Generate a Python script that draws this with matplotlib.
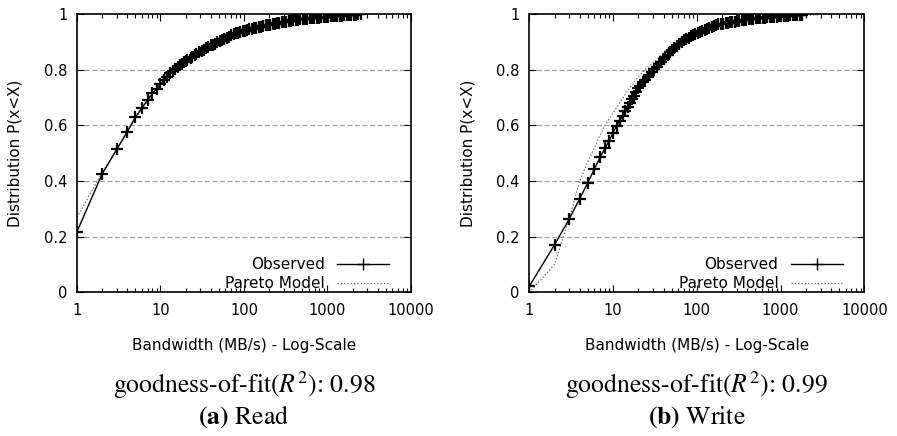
import matplotlib
matplotlib.use('Agg')
import matplotlib.pyplot as plt
from matplotlib.ticker import LogLocator, NullFormatter, NullLocator

plt.rcParams['font.family'] = ['DejaVu Sans']
plt.rcParams['mathtext.fontset'] = 'stix'

# 坐标轴刻度和标签
x_ticks = [1, 10, 100, 1000, 10000]
x_tick_labels = ['1', '10', '100', '1000', '10000']
y_ticks = [0, 0.2, 0.4, 0.6, 0.8, 1]
y_tick_labels = ['0', '0.2', '0.4', '0.6', '0.8', '1']

# (a) Read 观测数据 (带宽 MB/s, 累积概率)
read_bw = [1, 2, 3, 4, 5, 6, 7, 8, 9, 10, 11, 12, 13, 14, 15, 16, 17, 18, 19, 20,
           21, 23, 24, 26, 27, 29, 31, 33, 35, 37, 40, 42, 45, 48, 51, 54, 58, 62,
           66, 70, 75, 80, 85, 90, 96, 102, 109, 116, 124, 132, 141, 150, 160, 170,
           181, 193, 206, 220, 234, 250, 266, 284, 302, 322, 344, 366, 390, 416,
           444, 473, 504, 537, 573, 610, 651, 694, 740, 788, 840, 896, 955, 1020,
           1090, 1160, 1230, 1310, 1400, 1490, 1590, 1700, 1810, 1930, 2060, 2190,
           2340, 2490]
read_observed = [0.218, 0.425, 0.514, 0.577, 0.629, 0.663, 0.691, 0.715, 0.731, 0.748,
                 0.762, 0.775, 0.787, 0.795, 0.803, 0.810, 0.816, 0.822, 0.827, 0.832,
                 0.836, 0.843, 0.847, 0.853, 0.856, 0.862, 0.8675, 0.872, 0.877, 0.881,
                 0.887, 0.890, 0.894, 0.898, 0.902, 0.906, 0.911, 0.915, 0.919, 0.923,
                 0.927, 0.930, 0.933, 0.935, 0.938, 0.9406, 0.943, 0.945, 0.947, 0.949,
                 0.951, 0.953, 0.955, 0.957, 0.959, 0.9607, 0.962, 0.964, 0.965, 0.967,
                 0.968, 0.9695, 0.971, 0.9724, 0.974, 0.9754, 0.977, 0.978, 0.980, 0.981,
                 0.982, 0.9826, 0.9834, 0.9841, 0.9849, 0.9857, 0.9865, 0.9872, 0.988,
                 0.9888, 0.9895, 0.9903, 0.9911, 0.9919, 0.9924, 0.993, 0.9936, 0.9942,
                 0.9948, 0.9954, 0.996, 0.9966, 0.9972, 0.9978, 0.9984, 0.999]
read_pareto_bw = [1, 2, 3, 5, 10, 20, 50, 100, 200, 500, 1000, 2500]
read_pareto = [0.27, 0.43, 0.515, 0.627, 0.75, 0.833, 0.901, 0.94, 0.961, 0.982, 0.990, 0.999]

# (b) Write 观测数据
write_bw = [1, 2, 3, 4, 5, 6, 7, 8, 9, 10, 11, 12, 13, 14, 15, 16, 17, 18, 19, 20,
            21, 23, 24, 26, 27, 29, 31, 33, 35, 37, 40, 42, 45, 48, 51, 54, 58, 62,
            66, 70, 75, 80, 85, 90, 96, 102, 109, 116, 124, 132, 141, 150, 160, 170,
            181, 193, 206, 220, 234, 250, 266, 284, 302, 322, 344, 366, 390, 416,
            444, 473, 504, 537, 573, 610, 651, 694, 740, 788, 840, 896, 955, 1020,
            1090, 1160, 1230, 1310, 1400, 1490, 1590, 1700, 1810]
write_observed = [0.022, 0.171, 0.264, 0.337, 0.394, 0.444, 0.485, 0.518, 0.545, 0.574,
                  0.598, 0.617, 0.634, 0.650, 0.665, 0.680, 0.694, 0.707, 0.719, 0.733,
                  0.7407, 0.755, 0.7618, 0.7745, 0.7803, 0.7917, 0.8017, 0.8106, 0.819,
                  0.8269, 0.838, 0.8446, 0.8538, 0.8625, 0.8702, 0.8765, 0.8843, 0.8917,
                  0.8985, 0.905, 0.9102, 0.9151, 0.9197, 0.924, 0.9289, 0.9331, 0.9367,
                  0.9401, 0.9438, 0.9472, 0.9508, 0.9542, 0.9577, 0.961, 0.963, 0.9644,
                  0.9658, 0.9673, 0.9686, 0.970, 0.9714, 0.9728, 0.9743, 0.9757, 0.9771,
                  0.9785, 0.9799, 0.9813, 0.9823, 0.9831, 0.9839, 0.9846, 0.9854, 0.9861,
                  0.9869, 0.9877, 0.9885, 0.9892, 0.9901, 0.9908, 0.9916, 0.9924, 0.9931,
                  0.9937, 0.9943, 0.9949, 0.9955, 0.9962, 0.9968, 0.9974, 0.998]
write_pareto_bw = [1, 2, 3, 4, 5, 6, 7, 8, 10, 15, 20, 25, 30, 40, 50, 70, 100,
                   200, 500, 1000, 2000, 3000]
write_pareto = [0.0, 0.10, 0.265, 0.40, 0.47, 0.52, 0.565, 0.60, 0.645, 0.725, 0.775,
                0.805, 0.825, 0.86, 0.885, 0.91, 0.935, 0.962, 0.983, 0.991, 0.995, 0.997]

fit_values = ['0.98', '0.99']
captions = ['a', 'b']
caption_names = ['Read', 'Write']

fig = plt.figure(figsize=(8.97, 4.36), dpi=100)
ax_left = fig.add_axes([0.0858, 0.3294, 0.3724, 0.6385])
ax_right = fig.add_axes([0.5901, 0.3294, 0.3735, 0.6385])

panels = [
    (ax_left, read_bw, read_observed, read_pareto_bw, read_pareto),
    (ax_right, write_bw, write_observed, write_pareto_bw, write_pareto),
]

for i, (ax, bw, obs, pbw, par) in enumerate(panels):
    ax.set_xscale('log')
    ax.set_xlim(1, 10000)
    ax.set_ylim(0, 1)

    # 水平虚线网格
    for yv in y_ticks[1:-1]:
        ax.axhline(yv, color='#a0a0a0', lw=0.9, ls=(0, (4, 2)), zorder=0)

    ax.plot(bw, obs, color='black', lw=1.0, marker='+', ms=8.5, mew=1.6,
            label='Observed', zorder=3)
    ax.plot(pbw, par, color='#606060', lw=0.9, ls=':', label='Pareto Model', zorder=2)

    ax.set_xticks(x_ticks)
    ax.set_xticklabels(x_tick_labels)
    ax.xaxis.set_minor_locator(LogLocator(base=10, subs=range(2, 10)))
    ax.xaxis.set_minor_formatter(NullFormatter())
    ax.set_yticks(y_ticks)
    ax.set_yticklabels(y_tick_labels)
    ax.yaxis.set_minor_locator(NullLocator())

    ax.tick_params(which='both', direction='in', top=True, right=True,
                   labelsize=10.5, width=0.8)
    ax.tick_params(which='major', length=5)
    ax.tick_params(which='minor', length=3)
    ax.tick_params(axis='x', pad=8)
    ax.tick_params(axis='y', pad=7)
    for sp in ax.spines.values():
        sp.set_linewidth(1.2)

    ax.set_xlabel('Bandwidth (MB/s) - Log-Scale', fontsize=11)
    ax.xaxis.set_label_coords(0.5, -0.165)
    ax.set_ylabel('Distribution P(x<X)', fontsize=11)
    ax.yaxis.set_label_coords(-0.162, 0.5)

    leg = ax.legend(loc='lower right', bbox_to_anchor=(0.967, -0.034), frameon=False,
                    markerfirst=False, numpoints=1, handlelength=3.4,
                    handletextpad=0.8, labelspacing=0.25, borderpad=0.2,
                    fontsize=11)
    for h in leg.legend_handles[:1]:
        h.set_markeredgewidth(1.0)

    cx = (ax.get_position().x0 + ax.get_position().x1) / 2
    fig.text(cx, 0.099, 'goodness-of-fit($R^2$): ' + fit_values[i],
             ha='center', va='baseline', fontsize=18.5, family='STIXGeneral')
    fig.text(cx, 0.029, r'$\mathbf{(' + captions[i] + ')}$ ' + caption_names[i],
             ha='center', va='baseline', fontsize=18.5, family='STIXGeneral')

plt.savefig('out.png', dpi=100)
